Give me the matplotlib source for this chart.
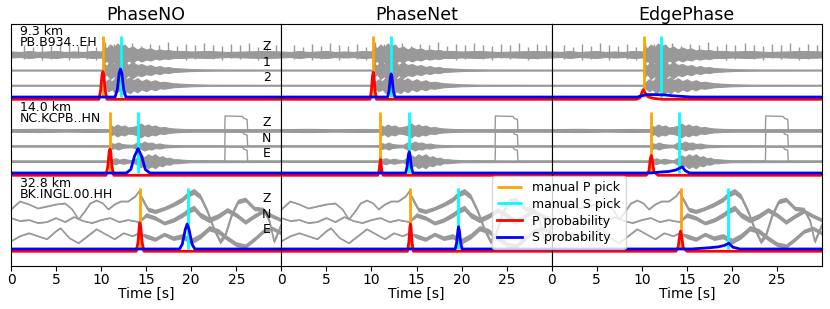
import matplotlib.pyplot as plt
import numpy as np

methods = ['PhaseNO', 'PhaseNet', 'EdgePhase']
distances = ['9.3 km', '14.0 km', '32.8 km']
stations = ['PB.B934..EH', 'NC.KCPB..HN', 'BK.INGL.00.HH']
channels = [['Z', '1', '2'], ['Z', 'N', 'E'], ['Z', 'N', 'E']]

p_picks = [10.2, 10.98, 14.3]   # s
s_picks = [12.17, 14.13, 19.6]  # s

# --- waveforms (amplitudes in counts, positive up) ---
# row 1: half-widths of the noise band
r1z_t = [0, 1, 2, 3, 4, 5, 6, 7, 8, 9, 10.1, 10.3, 10.6, 11.0, 11.4, 11.8, 12.2, 12.6, 13.0,
         13.5, 14.0, 14.5, 15.0, 15.5, 16.0, 16.5, 17.0, 17.5, 18.0, 19.0, 20.0, 22, 24, 26, 28, 30]
r1z_env = [3, 2.5, 3.5, 2.5, 3, 3.5, 2.5, 3, 2.5, 3.5, 3, 9, 6, 10, 7, 11, 8, 10, 6,
           8, 5, 7, 5, 6, 4, 5, 4, 4.5, 3.5, 3.5, 3, 3.5, 2.5, 3, 3.5, 3]
r1a_t = [0, 10.15, 10.3, 10.6, 11.0, 11.4, 11.8, 12.2, 12.6, 13.0, 13.5, 14.0, 14.5, 15.0,
         15.5, 16.0, 16.5, 17.0, 17.5, 18.0, 19.0, 20.0, 21, 23, 30]
r1a_env = [0.5, 0.5, 7, 4, 9, 6, 10, 7, 9, 5, 8, 5, 6, 4,
           5, 3, 4, 2.5, 3, 2, 1.5, 1, 0.8, 0.6, 0.5]
r1b_t = [0, 10.15, 10.4, 10.8, 11.2, 11.6, 12.0, 12.4, 12.8, 13.2, 13.6, 14.0, 14.5, 15.0,
         15.5, 16.0, 16.5, 17.0, 18.0, 19.0, 20.0, 22, 30]
r1b_env = [0.5, 0.5, 3, 6, 4, 8, 5, 9, 6, 8, 5, 7, 4, 6,
           3.5, 5, 3, 3.5, 2, 1.5, 1, 0.6, 0.5]
# periodic glitches on the Z channel
spike_t = [1.4, 2.4, 3.4, 4.4, 5.4, 6.4, 7.4, 8.4, 9.4, 10.4, 11.4, 12.4, 13.4, 14.4,
           15.4, 16.4, 17.4, 18.4, 19.4, 20.4, 21.4, 22.4, 23.4, 24.4, 25.4, 26.4, 27.4, 28.4, 29.4]
spike_up = [9, 7, 10, 8, 11, 9, 8, 10, 7, 12, 10, 9, 11, 8, 10, 9, 12, 8, 10, 9, 11, 9, 8, 10,
            9, 11, 7, 10, 9]
spike_dn = [5, 4, 6, 5, 3, 6, 4, 5, 6, 7, 8, 7, 6, 5, 4, 6, 5, 4, 6, 5, 4, 5, 6, 4, 5, 4, 6, 5, 4]

# row 2: noise half-widths + calibration step
r2z_t = [0, 3, 6, 9, 10.95, 11.1, 11.4, 11.8, 12.2, 12.6, 13.0, 13.5, 14.1, 14.4, 14.8, 15.2,
         15.6, 16.0, 16.5, 17.0, 17.5, 18.0, 19, 20, 30]
r2z_env = [1.3, 1.6, 1.2, 1.5, 1.3, 5, 3.5, 6, 4, 5, 3, 3.5, 5, 7, 4.5, 6,
           4, 5, 3, 3.5, 2.5, 2, 1.5, 1.3, 1.3]
r2n_t = [0, 10.95, 11.1, 11.5, 11.9, 12.3, 12.8, 13.5, 14.1, 14.4, 14.8, 15.2, 15.6, 16.0,
         16.5, 17.0, 17.5, 18, 19, 30]
r2n_env = [0.6, 0.6, 3, 2, 3.5, 2, 1.5, 1.2, 4, 2.5, 4.5, 3, 3.5, 2,
           2.5, 1.5, 1.2, 1, 0.7, 0.6]
r2e_t = [0, 10.95, 11.2, 11.6, 12.0, 12.5, 13.0, 13.5, 14.1, 14.4, 14.8, 15.2, 15.6, 16.0,
         16.4, 16.8, 17.2, 17.6, 18.0, 18.5, 19, 20, 30]
r2e_env = [0.7, 0.7, 2, 3, 1.5, 2.5, 1.5, 1, 4, 6, 4, 7, 5, 7,
           4, 5, 3, 3.5, 2, 2, 1.5, 1, 0.7]
step_t = [0, 23.72, 23.76, 25.7, 25.85, 26.2, 26.26, 30]
step_y = [0, 0, 14.5, 14, 12, 11, 0, 0]

# row 3: long-period traces
r3z_t = [0, 1, 2, 3, 4, 5, 6, 6.8, 7.5, 8.2, 8.8, 9.5, 10.2, 10.8, 11.5, 12.2, 13, 13.8, 14.2,
         14.6, 15.2, 16, 17, 18, 19, 19.6, 20.3, 21, 21.8, 22.5, 23.2, 23.8, 24.5, 25.2, 26,
         27, 28, 28.7, 29.2, 30]
r3z_y = [-3, 5, 2, -2, 0, 2, 3, -3, -13, -5, 3, 6, 3, -3, 2, 5, 5, 10, 15, 7, -3, -5, -2, 2,
         7, 12, 15, 10, -5, -22, -35, -28, -8, 5, 7, -2, -3, -15, -35, -18]
r3n_t = [0, 1, 2, 3, 4, 5, 6, 7, 8, 9, 10, 11, 12, 13, 14.2, 15, 16, 17, 18, 19, 19.6, 20.3,
         21, 22, 23, 24, 25, 26, 27, 28, 29, 30]
r3n_y = [4, 1, 2, -1, 0, 4, 0, 5, 1, -1, 2, 4, 0, 2, 0, 7, 4, -1, 2, 7, 11, 14, 7, 2, 6, 12,
         7, 0, 6, 11, 6, 2]
r3e_t = [0, 1, 2, 3, 4, 5, 5.5, 6.5, 7.5, 8.5, 9.5, 10.5, 11.5, 12.5, 13.5, 14.2, 15, 16, 17,
         18, 19, 20, 21, 22, 23, 24, 25, 26, 27, 28, 29, 30]
r3e_y = [-4, 1, 4, 1, -2, 6, 9, -1, -6, 1, 8, 3, -2, 4, 1, 4, 1, -2, 3, -1, 1, -4, 1, 9, 6,
         -1, -7, -9, -2, 6, 9, 4]
r3_noise_t = [0, 14.2, 14.4, 17, 19.6, 20, 24, 30]
r3_noise = [0.4, 0.4, 2.5, 2, 2.8, 3, 2.5, 2]

# --- probabilities (time knots, value) per row ---
phaseno_p = [([9.75, 9.95, 10.1, 10.2, 10.3, 10.45, 10.65], [0, 0.3, 0.8, 0.91, 0.8, 0.3, 0]),
             ([10.55, 10.75, 10.88, 10.98, 11.08, 11.2, 11.4], [0, 0.3, 0.75, 0.86, 0.75, 0.3, 0]),
             ([13.9, 14.1, 14.23, 14.3, 14.4, 14.55, 14.75], [0, 0.3, 0.8, 0.93, 0.8, 0.3, 0])]
phaseno_s = [([11.55, 11.8, 12.0, 12.15, 12.3, 12.5, 12.75], [0, 0.25, 0.78, 0.92, 0.78, 0.25, 0]),
             ([12.8, 13.3, 13.7, 14.1, 14.5, 14.9, 15.4], [0, 0.12, 0.55, 0.8, 0.55, 0.12, 0]),
             ([18.7, 19.0, 19.35, 19.55, 19.75, 20.1, 20.4], [0, 0.15, 0.65, 0.82, 0.65, 0.15, 0])]
phasenet_p = [([9.85, 10.0, 10.12, 10.2, 10.28, 10.4, 10.55], [0, 0.3, 0.78, 0.89, 0.78, 0.3, 0]),
              ([10.7, 10.85, 10.95, 11.0, 11.05, 11.15, 11.3], [0, 0.15, 0.42, 0.52, 0.42, 0.15, 0]),
              ([14.0, 14.15, 14.26, 14.33, 14.4, 14.5, 14.65], [0, 0.3, 0.78, 0.9, 0.78, 0.3, 0])]
phasenet_s = [([11.8, 11.95, 12.1, 12.19, 12.28, 12.43, 12.6], [0, 0.2, 0.65, 0.76, 0.65, 0.2, 0]),
              ([13.8, 13.95, 14.1, 14.19, 14.28, 14.43, 14.6], [0, 0.2, 0.6, 0.7, 0.6, 0.2, 0]),
              ([19.3, 19.45, 19.6, 19.67, 19.75, 19.9, 20.05], [0, 0.2, 0.62, 0.73, 0.62, 0.2, 0])]
edge_p = [([9.4, 9.8, 10.0, 10.15, 10.35, 10.7, 11.3, 12.3], [0, 0.05, 0.22, 0.32, 0.22, 0.08, 0.03, 0]),
          ([10.5, 10.8, 10.95, 11.05, 11.15, 11.35, 11.8], [0, 0.15, 0.55, 0.65, 0.55, 0.12, 0]),
          ([13.8, 14.05, 14.22, 14.3, 14.4, 14.6, 15.0], [0, 0.15, 0.55, 0.66, 0.55, 0.12, 0])]
edge_s = [([9.5, 10.0, 10.5, 11.5, 12.5, 13.5, 14.5, 15.5], [0, 0.04, 0.08, 0.08, 0.07, 0.04, 0.02, 0]),
          ([11.0, 12.0, 13.0, 13.8, 14.2, 14.5, 14.8, 15.3], [0, 0.03, 0.05, 0.1, 0.16, 0.2, 0.08, 0]),
          ([15.5, 16.5, 17.5, 18.5, 19.2, 19.66, 20.1, 20.9], [0, 0.02, 0.04, 0.07, 0.12, 0.19, 0.06, 0])]
p_probs = [phaseno_p, phasenet_p, edge_p]
s_probs = [phaseno_s, phasenet_s, edge_s]

row_base = [2, 1, 0]
trace_off = [0.56, 0.355, 0.155]
amp = 1 / 76      # counts -> axis units
prob_scale = 0.4
gray = '0.6'

fig, axes = plt.subplots(1, 3, figsize=(8.3, 3.09), dpi=100, sharey=True)
fig.subplots_adjust(left=11/830, right=822/830, top=1-23.7/309, bottom=1-265.7/309, wspace=0)


def band(ax, t, env, y0):
    env = np.array(env) * amp
    ax.fill_between(t, y0 - env, y0 + env, color=gray, lw=0.8, edgecolor=gray)


for j, ax in enumerate(axes):
    # row 1
    b = row_base[0]
    band(ax, r1z_t, r1z_env, b + trace_off[0])
    ax.vlines(spike_t, b + trace_off[0] - np.array(spike_dn) * amp,
              b + trace_off[0] + np.array(spike_up) * amp, color=gray, lw=1)
    band(ax, r1a_t, r1a_env, b + trace_off[1])
    band(ax, r1b_t, r1b_env, b + trace_off[2])
    # row 2
    b = row_base[1]
    for k, (t, env) in enumerate([(r2z_t, r2z_env), (r2n_t, r2n_env), (r2e_t, r2e_env)]):
        ax.plot(step_t, b + trace_off[k] + np.array(step_y) * amp, color=gray, lw=1)
        band(ax, t, env, b + trace_off[k])
    # row 3
    b = row_base[2]
    for k, (t, y) in enumerate([(r3z_t, r3z_y), (r3n_t, r3n_y), (r3e_t, r3e_y)]):
        yy = b + trace_off[k] + np.array(y) * amp
        noise = np.interp(t, r3_noise_t, r3_noise) * amp
        ax.fill_between(t, yy - noise, yy + noise, color=gray, lw=0)
        ax.plot(t, yy, color=gray, lw=1.2)

    for r in range(3):
        b = row_base[r]
        ax.vlines(p_picks[r], b, b + 0.8, color='orange', lw=2, label='manual P pick' if r == 0 else None)
        ax.vlines(s_picks[r], b, b + 0.8, color='cyan', lw=2, label='manual S pick' if r == 0 else None)
        tp, vp = p_probs[j][r]
        ax.plot(np.r_[0, tp, 30], b - 0.03 + prob_scale * np.r_[0, vp, 0], color='red', lw=2,
                label='P probability' if r == 0 else None)
        ts, vs = s_probs[j][r]
        ax.plot(np.r_[0, ts, 30], b + prob_scale * np.r_[0, vs, 0], color='blue', lw=2,
                label='S probability' if r == 0 else None)

    ax.set_xlim(0, 30)
    ax.set_xticks([0, 5, 10, 15, 20, 25])
    ax.set_ylim(-0.22, 2.965)
    ax.set_yticks([])
    ax.tick_params(labelsize=10, pad=2)
    ax.set_xlabel('Time [s]', fontsize=10, labelpad=0)
    ax.set_title(methods[j], fontsize=12.5, pad=0)

ax0 = axes[0]
for r in range(3):
    b = row_base[r]
    ax0.text(1.0, b + 0.95, distances[r] + '\n' + stations[r], fontsize=9, va='top', ha='left',
             linespacing=0.85)
    for k in range(3):
        ax0.text(28.4, b + trace_off[k] + 0.1, channels[r][k], fontsize=9, ha='center', va='center')

handles, labels = axes[0].get_legend_handles_labels()
fig.legend(handles, labels, loc='upper left', bbox_to_anchor=(492/830, 1-176/309),
           borderaxespad=0, fontsize=9, labelspacing=0.3)

plt.savefig('out.png')
